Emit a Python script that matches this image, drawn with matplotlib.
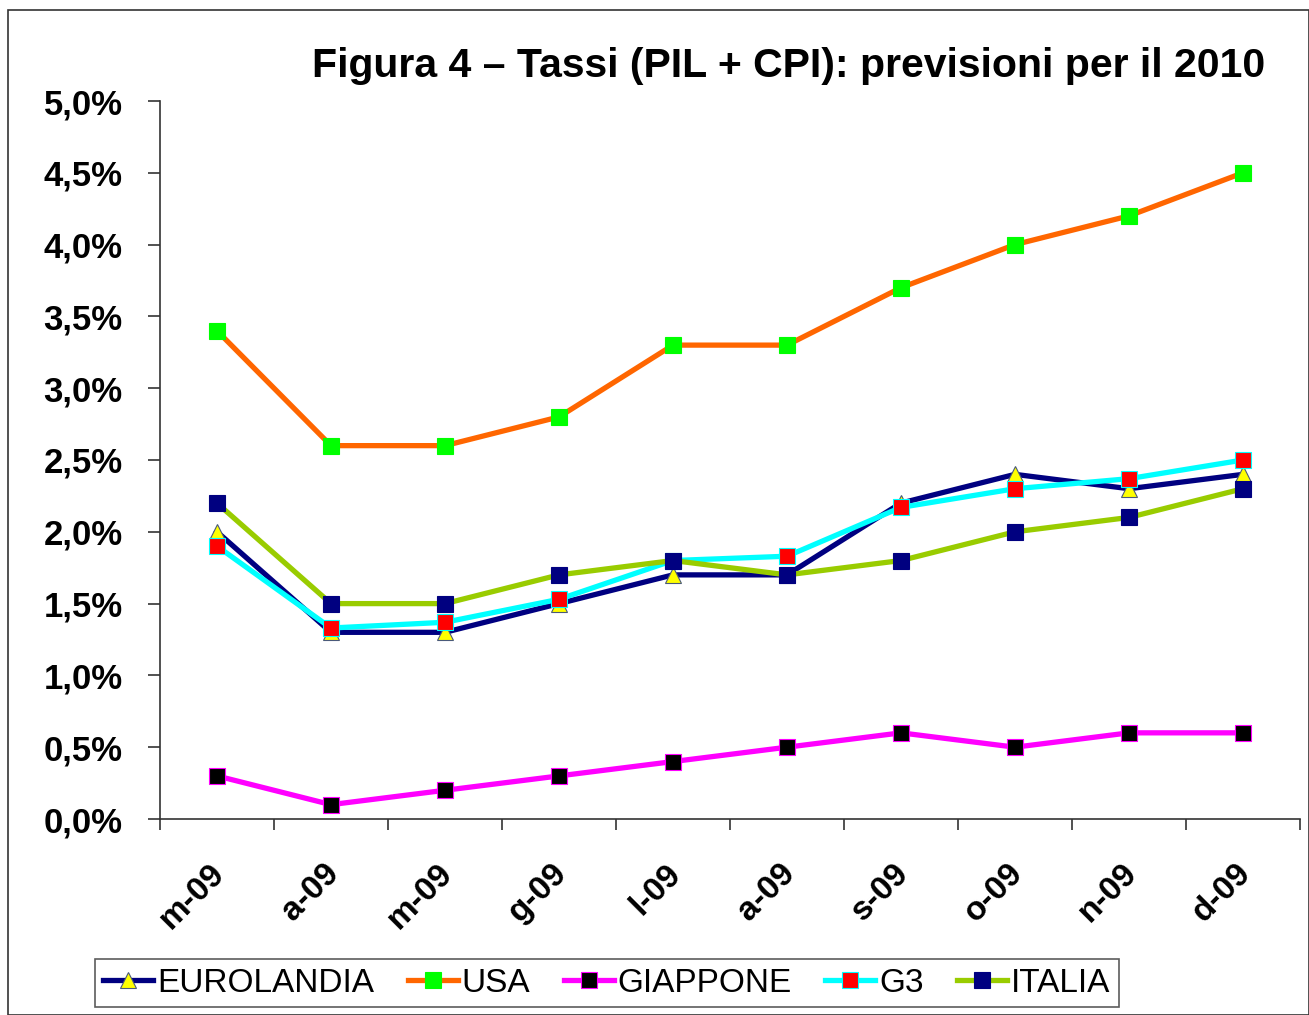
"""Figura 4 - Tassi (PIL + CPI): previsioni per il 2010."""
import matplotlib
matplotlib.use("Agg")
import matplotlib.pyplot as plt
from matplotlib.patches import Rectangle
from matplotlib.ticker import FixedLocator, FuncFormatter

months = ["m-09", "a-09", "m-09", "g-09", "l-09", "a-09", "s-09", "o-09", "n-09", "d-09"]
eurolandia = [2.0, 1.3, 1.3, 1.5, 1.7, 1.7, 2.2, 2.4, 2.3, 2.4]
usa = [3.4, 2.6, 2.6, 2.8, 3.3, 3.3, 3.7, 4.0, 4.2, 4.5]
giappone = [0.3, 0.1, 0.2, 0.3, 0.4, 0.5, 0.6, 0.5, 0.6, 0.6]
g3 = [1.9, 1.33, 1.37, 1.53, 1.8, 1.83, 2.17, 2.3, 2.37, 2.5]
italia = [2.2, 1.5, 1.5, 1.7, 1.8, 1.7, 1.8, 2.0, 2.1, 2.3]

# name, values, line colour, marker, marker face, marker edge
series = [
    ("EUROLANDIA", eurolandia, "#000080", "^", "#FFFF00", "#4a5a7a"),
    ("USA", usa, "#FF6600", "s", "#00FF00", "#00FF00"),
    ("GIAPPONE", giappone, "#FF00FF", "s", "#000000", "#FF00FF"),
    ("G3", g3, "#00FFFF", "s", "#FF0000", "#00FFFF"),
    ("ITALIA", italia, "#99CC00", "s", "#000080", "#000080"),
]

plt.rcParams["font.family"] = ["Liberation Sans", "DejaVu Sans"]

fig = plt.figure(figsize=(13.09, 10.15), dpi=100)
fig.patches.append(Rectangle((8 / 1309, 0), 1 - 8 / 1309, 1 - 10 / 1015,
                             transform=fig.transFigure, fill=False,
                             edgecolor="#333333", lw=1.2))
ax = fig.add_axes([160 / 1309, 1 - 819 / 1015, 1140 / 1309, 718 / 1015])

x = list(range(len(months)))
for name, vals, lc, mk, mf, me in series:
    ax.plot(x, vals, color=lc, lw=3.8, marker=mk, markersize=12,
            markerfacecolor=mf, markeredgecolor=me, markeredgewidth=0.8,
            label=name)

ax.set_xlim(-0.5, len(months) - 0.5)
ax.set_ylim(0, 5)
ax.yaxis.set_major_locator(FixedLocator([i * 0.5 for i in range(11)]))
ax.yaxis.set_major_formatter(FuncFormatter(lambda v, p: f"{v:.1f}%".replace(".", ",")))
# labels sit a touch left of the category centre (major ticks are invisible)
ax.set_xticks([i - 0.07 for i in x])
ax.set_xticklabels(months, rotation=45, ha="right", rotation_mode="anchor",
                   fontsize=24, fontweight="bold")
ax.xaxis.set_minor_locator(FixedLocator([i - 0.5 for i in range(len(months) + 1)]))
ax.tick_params(axis="x", which="major", length=0, pad=28)
ax.tick_params(axis="x", which="minor", length=8, width=1.2, color="#333333")
ax.tick_params(axis="y", length=9, width=1.2, color="#333333", pad=18,
               labelsize=25)
for lab in ax.get_yticklabels():
    lab.set_fontweight("bold")
for s in ("top", "right"):
    ax.spines[s].set_visible(False)
for s in ("left", "bottom"):
    ax.spines[s].set_color("#333333")
    ax.spines[s].set_linewidth(1.2)

fig.text(789 / 1309, 1 - 66 / 1015, "Figura 4 – Tassi (PIL + CPI): previsioni per il 2010",
         ha="center", va="center", fontsize=29.5, fontweight="bold")

leg = fig.legend(loc="center", bbox_to_anchor=(607 / 1309, 1 - 983 / 1015), ncol=5,
                 fontsize=24, frameon=True, fancybox=False, edgecolor="#333333",
                 handlelength=1.5, handletextpad=0.12, columnspacing=1.0,
                 borderpad=0.25)
leg.get_frame().set_linewidth(1.2)

fig.savefig("out.png", dpi=100)
